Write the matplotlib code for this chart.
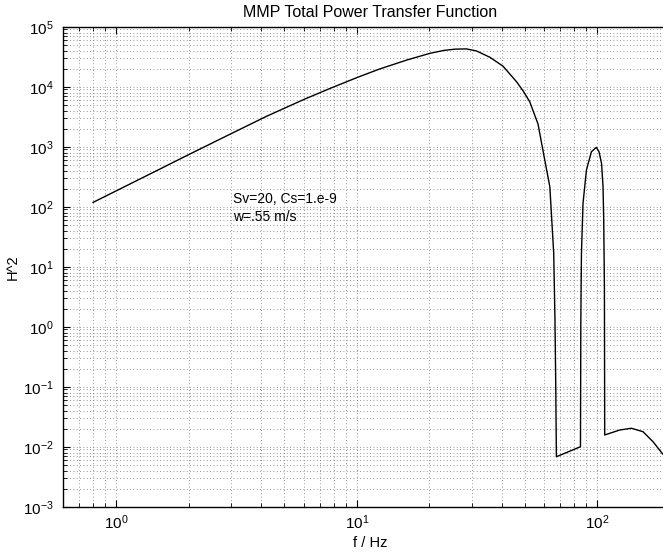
import matplotlib
matplotlib.use("Agg")
import matplotlib.pyplot as plt
from matplotlib.ticker import LogLocator, NullFormatter

plt.rcParams['font.family'] = ['Liberation Sans', 'DejaVu Sans']
plt.rcParams['mathtext.fontset'] = 'custom'
plt.rcParams['mathtext.rm'] = 'Liberation Sans'
plt.rcParams['mathtext.it'] = 'Liberation Sans:italic'

# frequenz (Hz) und H^2
freq = [0.8, 1.5, 2.0, 3.0, 4.2, 6.0, 7.7, 10.0, 12.45, 16.1, 20.1, 23.0, 25.6, 28.5,
        31.4, 35.7, 40.5, 46.1, 49.1, 52.3, 56.6, 60.4, 63.4, 65.8, 66.6, 67.1,
        67.5, 85.0, 85.3, 85.8, 87.1, 90.0, 94.4, 99.0, 101.5, 104.0, 105.5,
        106.2, 106.9, 107.2, 123.8, 138.4, 154.7, 170.3, 186.8]
h2 = [118, 415, 740, 1650, 3200, 6100, 9300, 14200, 19800, 27800, 36000, 40300, 42300, 42700,
      39500, 31000, 22000, 12100, 8500, 5620, 2400, 600, 215, 16.7, 1.29, 0.1,
      0.0068, 0.010, 1.29, 16.7, 114, 409, 826, 977, 826, 528, 215,
      60, 4.6, 0.0157, 0.019, 0.0203, 0.0178, 0.0121, 0.00756]

yticks = [10.0 ** k for k in range(-3, 6)]
ytick_labels = ['$10^{%d}$' % k for k in range(-3, 6)]
xticks = [1, 10, 100]
xtick_labels = ['$10^{0}$', '$10^{1}$', '$10^{2}$']

fig = plt.figure(figsize=(6.63, 5.58), dpi=100)
ax = fig.add_axes([0.095, 0.0919, 0.926, 0.8602])

ax.plot(freq, h2, color='black', linewidth=1.0)
ax.set_xscale('log')
ax.set_yscale('log')
ax.set_xlim(0.6, 214)
ax.set_ylim(1e-3, 1e5)

ax.set_xticks(xticks)
ax.set_xticklabels(xtick_labels)
ax.set_yticks(yticks)
ax.set_yticklabels(ytick_labels)
ax.xaxis.set_minor_locator(LogLocator(base=10, subs=range(2, 10), numticks=20))
ax.yaxis.set_minor_locator(LogLocator(base=10, subs=range(2, 10), numticks=20))
ax.xaxis.set_minor_formatter(NullFormatter())
ax.yaxis.set_minor_formatter(NullFormatter())

ax.grid(True, which='both', linestyle=(0, (1, 3)), color='0.45', linewidth=0.6)
ax.tick_params(which='both', direction='in', top=True, right=True, labelsize=11)
ax.tick_params(which='major', length=5)
ax.tick_params(which='minor', length=3)
ax.tick_params(axis='y', pad=7)
ax.tick_params(axis='x', pad=5)
for s in ax.spines.values():
    s.set_linewidth(1.0)

ax.text(3.05, 95, 'Sv=20, Cs=1.e-9\nw=.55 m/s', fontsize=10, va='center', ha='left',
        linespacing=1.3)

ax.set_title('MMP Total Power Transfer Function', fontsize=11.5, pad=7)
ax.set_xlabel('f / Hz', fontsize=10.5, labelpad=3)
ax.set_ylabel('H^2', fontsize=10.5, labelpad=2)

fig.savefig('out.png', dpi=100)
